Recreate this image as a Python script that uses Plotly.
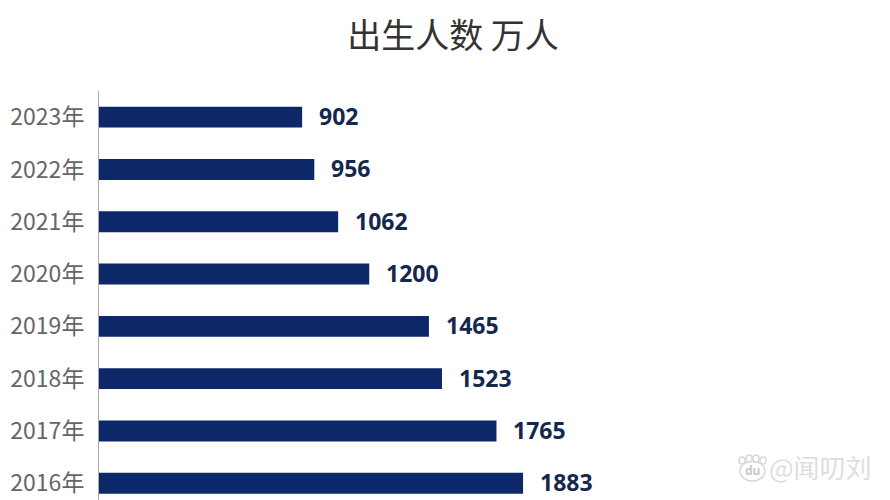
import plotly.graph_objects as go

years = ["2023年","2022年","2021年","2020年","2019年","2018年","2017年","2016年"]
births = [902,956,1062,1200,1465,1523,1765,1883]
title = "出生人数 万人"
watermark = "@闻叨刘"
CJK = "Noto Sans CJK SC"

W, H = 890, 500
L, T = 91, 83
def px(x): return (x - L) / (W - L)
def py(y): return 1 - (y - T) / (H - T)

fig = go.Figure(go.Bar(
    x=births, y=years, orientation="h", width=0.4,
    marker=dict(color="#0c2868", line=dict(width=0)),
    cliponaxis=False,
))
annotations = [dict(x=v, y=c, text=str(v), xref="x", yref="y", xshift=15, yshift=1, xanchor="left",
                    yanchor="middle", showarrow=False,
                    font=dict(family="Noto Sans, "+CJK, size=23, color="#14284f", weight="bold"))
               for v, c in zip(births, years)]
annotations += [
    dict(text=watermark, xref="paper", yref="paper", x=px(866), y=py(458),
         xanchor="right", yanchor="middle", showarrow=False,
         font=dict(family=CJK, size=26, color="#dedede")),
    dict(text="du", xref="paper", yref="paper", x=px(744), y=py(462),
         xanchor="center", yanchor="middle", showarrow=False,
         font=dict(family="Noto Sans", size=12, color="#c8c8c8", weight="bold")),
]
paw_line = dict(color="#d8d8d8", width=1.5)
def ellipse(x0, y0, x1, y1):
    return dict(type="circle", xref="paper", yref="paper", x0=px(x0), x1=px(x1),
                y0=py(y1), y1=py(y0), line=paw_line, fillcolor="white")
shapes = [
    ellipse(732, 453, 757, 473),
    ellipse(731, 449, 737, 456),
    ellipse(738, 447, 744, 454),
    ellipse(745, 447, 751, 454),
    ellipse(752, 449, 758, 456),
]
fig.update_layout(
    width=W, height=H, autosize=False, showlegend=False,
    paper_bgcolor="white", plot_bgcolor="white",
    margin=dict(l=L, r=0, t=T, b=0),
    title=dict(text=title, x=0.5, xanchor="center", xref="container", y=0.944, yanchor="middle",
               font=dict(family=CJK, size=34, color="#333333")),
    font=dict(family=CJK),
    annotations=annotations, shapes=shapes,
)
fig.update_xaxes(range=[0,3548], visible=False)
fig.update_yaxes(categoryorder="array", categoryarray=years[::-1],
                 range=[-0.473,7.5], showline=True, linecolor="#aaaaaa", linewidth=1,
                 ticks="", ticklen=0, ticklabelstandoff=9,
                 tickfont=dict(family=CJK, size=23, color="#666666"))
fig.write_html("out.html")
